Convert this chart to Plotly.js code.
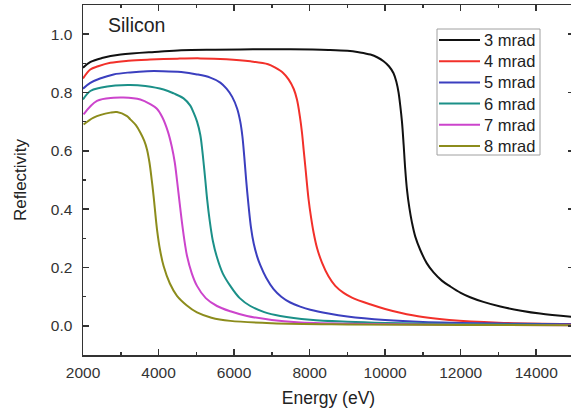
<!DOCTYPE html>
<html>
<head>
<meta charset="utf-8">
<script src="https://cdn.plot.ly/plotly-3.0.1.min.js"></script>
<style>
html,body{margin:0;padding:0;overflow:hidden;background:#fff;}
#chart{width:575px;height:410px;}
</style>
</head>
<body>
<div id="chart"></div>
<script>
// 3 mrad
const e3 = [2000, 2200, 2500, 3000, 4000, 4600, 5500, 6500, 7500, 8500, 9000, 9300, 9610, 9800, 9958, 10100, 10222, 10300, 10355, 10400, 10445, 10490, 10530, 10577, 10640, 10710, 10800, 10930, 11100, 11282, 11500, 11723, 12000, 12250, 12600, 13050, 13600, 14100, 15000];
const r3 = [0.885, 0.905, 0.918, 0.930, 0.940, 0.945, 0.947, 0.948, 0.948, 0.946, 0.943, 0.938, 0.930, 0.920, 0.907, 0.890, 0.866, 0.835, 0.800, 0.755, 0.700, 0.620, 0.540, 0.468, 0.405, 0.354, 0.305, 0.260, 0.215, 0.183, 0.155, 0.135, 0.113, 0.098, 0.082, 0.066, 0.052, 0.042, 0.030];
// 4 mrad
const e4 = [2000, 2193, 2400, 2723, 3200, 3780, 4500, 5110, 5800, 6430, 6900, 7091, 7300, 7443, 7580, 7665, 7740, 7798, 7845, 7885, 7972, 8040, 8105, 8200, 8327, 8500, 8679, 8900, 9121, 9600, 10000, 10400, 11000, 11700, 13000, 15000];
const r4 = [0.848, 0.879, 0.890, 0.902, 0.909, 0.913, 0.916, 0.917, 0.914, 0.907, 0.897, 0.885, 0.867, 0.845, 0.812, 0.776, 0.720, 0.662, 0.600, 0.548, 0.434, 0.370, 0.320, 0.265, 0.217, 0.170, 0.137, 0.113, 0.097, 0.074, 0.058, 0.045, 0.030, 0.020, 0.011, 0.006];
// 5 mrad
const e5 = [2000, 2193, 2450, 2810, 3250, 3700, 4100, 4600, 5018, 5370, 5635, 5800, 5950, 6080, 6164, 6220, 6270, 6320, 6385, 6450, 6520, 6605, 6694, 6850, 7046, 7250, 7488, 7750, 8017, 8500, 9000, 10000, 11000, 12000, 13500, 15000];
const r5 = [0.813, 0.833, 0.848, 0.862, 0.869, 0.873, 0.873, 0.870, 0.862, 0.851, 0.834, 0.813, 0.785, 0.745, 0.700, 0.650, 0.580, 0.500, 0.410, 0.335, 0.282, 0.240, 0.208, 0.165, 0.126, 0.100, 0.080, 0.066, 0.055, 0.042, 0.032, 0.020, 0.013, 0.010, 0.007, 0.005];
// 6 mrad
const e6 = [2000, 2193, 2458, 2855, 3250, 3650, 4134, 4400, 4663, 4841, 4928, 5020, 5105, 5160, 5200, 5238, 5290, 5350, 5440, 5547, 5700, 5900, 6150, 6430, 6800, 7223, 8017, 9000, 10000, 12000, 15000];
const r6 = [0.776, 0.805, 0.816, 0.824, 0.826, 0.822, 0.810, 0.797, 0.780, 0.755, 0.731, 0.700, 0.655, 0.600, 0.550, 0.500, 0.430, 0.365, 0.290, 0.235, 0.180, 0.137, 0.095, 0.068, 0.047, 0.034, 0.021, 0.014, 0.010, 0.006, 0.003];
// 7 mrad
const e7 = [2016, 2370, 2810, 3067, 3517, 3781, 3950, 4100, 4250, 4350, 4430, 4488, 4560, 4621, 4700, 4753, 4880, 5018, 5250, 5547, 5900, 6342, 7000, 7665, 9000, 12000, 15000];
const r7 = [0.725, 0.771, 0.782, 0.783, 0.776, 0.760, 0.745, 0.715, 0.665, 0.615, 0.560, 0.500, 0.420, 0.354, 0.280, 0.240, 0.180, 0.137, 0.095, 0.068, 0.050, 0.034, 0.020, 0.012, 0.007, 0.004, 0.002];
// 8 mrad
const e8 = [2016, 2281, 2723, 2900, 3165, 3252, 3400, 3517, 3620, 3694, 3760, 3820, 3869, 3959, 4040, 4134, 4300, 4488, 4750, 5018, 5400, 5900, 7000, 9000, 12000, 15000];
const r8 = [0.690, 0.714, 0.731, 0.733, 0.719, 0.708, 0.688, 0.663, 0.635, 0.605, 0.560, 0.500, 0.445, 0.331, 0.260, 0.205, 0.145, 0.103, 0.070, 0.046, 0.028, 0.017, 0.009, 0.005, 0.003, 0.002];

const names = ['3 mrad', '4 mrad', '5 mrad', '6 mrad', '7 mrad', '8 mrad'];
const colors = ['#111111', '#f2302a', '#3b3fbf', '#1b9088', '#cc44cc', '#8c8c1c'];
const xs = [e3, e4, e5, e6, e7, e8];
const ys = [r3, r4, r5, r6, r7, r8];

const FONT = 'Liberation Sans, Arial, sans-serif';

const traces = names.map((n, i) => ({
  x: xs[i], y: ys[i], name: n, type: 'scatter', mode: 'lines', showlegend: false,
  line: {color: colors[i], width: 2, shape: 'spline', smoothing: 1}
}));

// page geometry (pixels) for the hand-made legend box
const W = 575, H = 410, ML = 83, MR = 1, MT = 5, MB = 55;
const pw = W - ML - MR, ph = H - MT - MB;
const px2x = p => (p - ML) / pw;
const px2y = p => (H - MB - p) / ph;

const shapes = [{
  type: 'rect', xref: 'paper', yref: 'paper',
  x0: px2x(437), x1: px2x(540), y0: px2y(155), y1: px2y(29),
  line: {color: '#a0a0a0', width: 1}, fillcolor: '#fff', layer: 'above'
}];
const annotations = [{
  text: 'Silicon', xref: 'paper', yref: 'paper', x: px2x(106), y: px2y(25),
  xanchor: 'left', yanchor: 'middle', showarrow: false,
  font: {family: FONT, size: 19.5, color: '#222'}
}];
names.forEach((n, i) => {
  const cy = 40 + i * 21.2;
  shapes.push({type: 'line', xref: 'paper', yref: 'paper',
    x0: px2x(439), x1: px2x(480), y0: px2y(cy), y1: px2y(cy),
    line: {color: colors[i], width: 2}, layer: 'above'});
  annotations.push({text: n, xref: 'paper', yref: 'paper', x: px2x(482), y: px2y(cy),
    xanchor: 'left', yanchor: 'middle', showarrow: false,
    font: {family: FONT, size: 16.5, color: '#222'}});
});

const axisCommon = {
  showgrid: false, zeroline: false, showline: true, linecolor: '#333', linewidth: 1.5,
  mirror: 'ticks', ticks: 'inside', ticklen: 6, tickwidth: 1.5, tickcolor: '#333',
  tickfont: {family: FONT, size: 15.5, color: '#333'}
};

const layout = {
  width: W, height: H,
  margin: {l: ML, r: MR, t: MT, b: MB},
  paper_bgcolor: '#fff', plot_bgcolor: '#fff',
  showlegend: false,
  xaxis: Object.assign({}, axisCommon, {
    range: [2000, 15000], tickvals: [2000, 4000, 6000, 8000, 10000, 12000, 14000],
    ticktext: ['2000', '4000', '6000', '8000', '10000', '12000', '14000'],
    ticklabelstandoff: 3,
    minor: {dtick: 1000, tick0: 1000, ticks: 'inside', ticklen: 3, tickwidth: 1.5, tickcolor: '#333'},
    title: {text: 'Energy (eV)', font: {family: FONT, size: 17.5, color: '#222'}, standoff: 11}
  }),
  yaxis: Object.assign({}, axisCommon, {
    range: [-0.1, 1.1], tickvals: [0, 0.2, 0.4, 0.6, 0.8, 1.0],
    ticktext: ['0.0', '0.2', '0.4', '0.6', '0.8', '1.0'],
    ticklabelstandoff: 6,
    minor: {dtick: 0.1, tick0: 0.1, ticks: 'inside', ticklen: 3, tickwidth: 1.5, tickcolor: '#333'},
    title: {text: 'Reflectivity', font: {family: FONT, size: 17, color: '#222'}, standoff: 20}
  }),
  shapes: shapes,
  annotations: annotations
};

Plotly.newPlot('chart', traces, layout, {displayModeBar: false, staticPlot: true});
</script>
</body>
</html>
